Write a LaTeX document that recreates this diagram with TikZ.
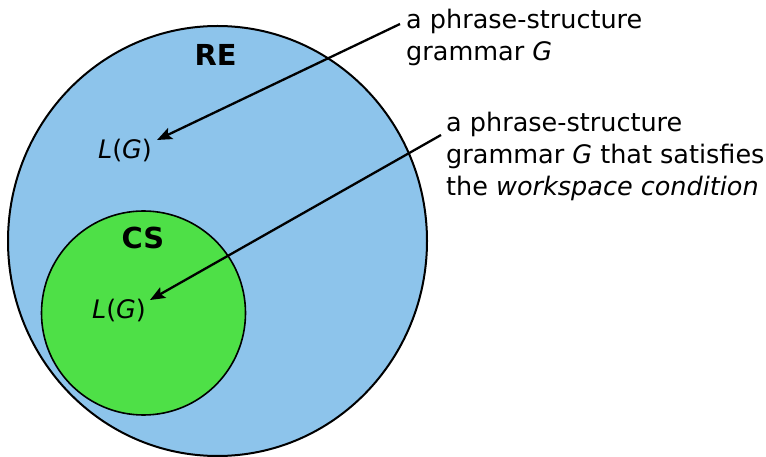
\documentclass[tikz,border=0pt]{standalone}
\usepackage{fontspec}
\setmainfont{DejaVu Sans}
\usetikzlibrary{arrows.meta}
\begin{document}
\begin{tikzpicture}[x=1bp,y=-1bp,
  txt/.style={inner sep=0pt,font=\fontsize{25.6}{32}\selectfont},
  lbl/.style={txt,align=left,anchor=north west},
  setname/.style={inner sep=0pt,font=\fontsize{29}{32}\selectfont\bfseries},
  pointer/.style={draw=black,line width=2.3bp,-{Stealth[length=15bp,width=12bp,inset=3bp]}}]
\useasboundingbox (0,0) rectangle (766,457);
\definecolor{reblue}{HTML}{8DC4EB}
\definecolor{csgreen}{HTML}{4EE047}
\draw[fill=reblue,line width=2bp] (217.5,241) ellipse [x radius=209.5, y radius=215];
\draw[fill=csgreen,line width=1.6bp] (143.5,313) circle [radius=102];
\node[setname] (re) at (215.5,55) {RE};
\node[setname] (cs) at (143,238) {CS};
\node[txt] (lg1) at (125,151) {\textit{L}(\textit{G})};
\node[txt] (lg2) at (119,311) {\textit{L}(\textit{G})};
\node[lbl] (t1) at (406,9) {a phrase-structure\\grammar \textit{G}};
\node[lbl] (t2) at (446,112) {a phrase-structure\\grammar \textit{G} that satisfies\\the \textit{workspace condition}};
\coordinate (s1) at (400,24);
\coordinate (s2) at (441,135);
\coordinate (e1) at (157,140);
\coordinate (e2) at (150,300);
\draw[pointer] (s1) -- (e1);
\draw[pointer] (s2) -- (e2);
\end{tikzpicture}
\end{document}
